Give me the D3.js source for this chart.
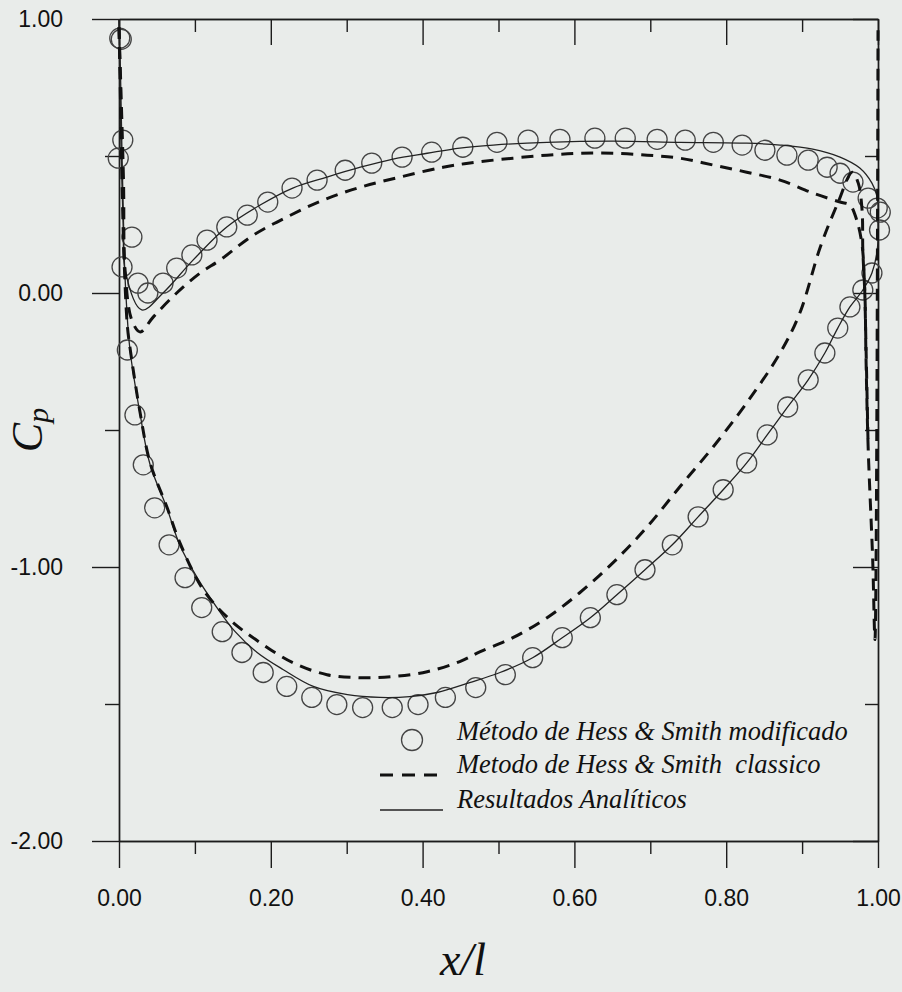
<!DOCTYPE html>
<html><head><meta charset="utf-8">
<script src="https://cdn.jsdelivr.net/npm/d3@7/dist/d3.min.js"></script>
<style>body{margin:0;background:#e9ecea}svg{display:block}</style>
</head><body><svg id="c" width="902" height="992"></svg>
<script>
// ---- tick definitions ----
const xTicksMajor = [0, 0.2, 0.4, 0.6, 0.8, 1.0];
const xTicksMinor = [0.1, 0.3, 0.5, 0.7, 0.9];
const yTicksMajor = [1, 0, -1, -2];
const yTicksMinor = [0.5, -0.5, -1.5];

// ---- Resultados Analíticos (solid) ----
const anaSucX  = [0, 0.001, 0.003, 0.006, 0.009, 0.0145, 0.028, 0.041, 0.063, 0.080, 0.103, 0.129, 0.153, 0.182, 0.216, 0.256, 0.301, 0.344, 0.383, 0.419, 0.462, 0.502, 0.545, 0.584, 0.621, 0.656, 0.693, 0.729, 0.763, 0.796, 0.827, 0.854, 0.881, 0.908, 0.930, 0.947, 0.963, 0.980, 0.992, 0.999, 1.0];
const anaSucCp = [1.0, 0.80, 0.50, 0.20, 0.00, -0.208, -0.445, -0.627, -0.784, -0.919, -1.039, -1.148, -1.236, -1.312, -1.374, -1.436, -1.466, -1.476, -1.473, -1.458, -1.422, -1.385, -1.331, -1.258, -1.185, -1.101, -1.010, -0.919, -0.817, -0.718, -0.620, -0.518, -0.416, -0.317, -0.219, -0.128, -0.051, 0.011, 0.073, 0.157, 0.26];
const anaPreX  = [0, 0.002, 0.004, 0.006, 0.008, 0.030, 0.058, 0.0975, 0.142, 0.186, 0.229, 0.274, 0.318, 0.361, 0.406, 0.449, 0.493, 0.564, 0.651, 0.739, 0.827, 0.871, 0.914, 0.950, 0.976, 0.992, 0.999, 1.0];
const anaPreCp = [1.0, 0.80, 0.50, 0.25, 0.084, -0.062, 0.0, 0.120, 0.241, 0.321, 0.383, 0.423, 0.459, 0.489, 0.510, 0.529, 0.540, 0.550, 0.554, 0.550, 0.547, 0.540, 0.525, 0.496, 0.456, 0.401, 0.350, 0.26];

// ---- Metodo de Hess & Smith classico (dashed) ----
const claSucX  = [0, 0.002, 0.004, 0.007, 0.011, 0.0145, 0.028, 0.041, 0.063, 0.080, 0.111, 0.146, 0.186, 0.229, 0.274, 0.318, 0.361, 0.406, 0.449, 0.476, 0.519, 0.564, 0.607, 0.651, 0.696, 0.739, 0.783, 0.827, 0.871, 0.897, 0.924, 0.947, 0.966, 0.974, 0.979, 0.980, 0.983, 0.984, 0.987, 0.993, 0.996, 1.0];
const claSucCp = [0.97, 0.70, 0.40, 0.10, -0.12, -0.20, -0.44, -0.62, -0.78, -0.91, -1.083, -1.192, -1.276, -1.349, -1.393, -1.404, -1.400, -1.382, -1.345, -1.309, -1.258, -1.185, -1.094, -0.984, -0.853, -0.707, -0.561, -0.401, -0.219, -0.073, 0.168, 0.328, 0.441, 0.401, 0.303, 0.157, -0.026, -0.208, -0.561, -0.973, -1.265, 0.959];
const claPreX  = [0, 0.003, 0.006, 0.008, 0.017, 0.028, 0.045, 0.076, 0.107, 0.133, 0.177, 0.221, 0.269, 0.318, 0.370, 0.427, 0.472, 0.519, 0.564, 0.607, 0.651, 0.696, 0.739, 0.783, 0.827, 0.871, 0.914, 0.950, 0.963, 0.972, 0.979, 0.982, 0.984, 0.987];
const claPreCp = [0.97, 0.70, 0.40, 0.084, -0.10, -0.142, -0.088, 0.0, 0.073, 0.120, 0.211, 0.277, 0.339, 0.386, 0.423, 0.459, 0.478, 0.492, 0.503, 0.510, 0.510, 0.503, 0.492, 0.467, 0.441, 0.412, 0.365, 0.332, 0.321, 0.266, 0.175, 0.047, -0.171, -0.561];

// ---- Método de Hess & Smith modificado (circles) ----
const modPreX  = [0.003, 0.005, 0.017, 0.025, 0.038, 0.058, 0.076, 0.096, 0.116, 0.142, 0.169, 0.196, 0.228, 0.261, 0.298, 0.333, 0.373, 0.412, 0.453, 0.498, 0.539, 0.581, 0.627, 0.667, 0.709, 0.746, 0.783, 0.821, 0.851, 0.880, 0.908, 0.933, 0.950, 0.967, 0.987, 0.999, 1.003];
const modPreCp = [0.926, 0.558, 0.204, 0.036, 0.0, 0.036, 0.091, 0.139, 0.193, 0.241, 0.284, 0.332, 0.383, 0.412, 0.448, 0.474, 0.496, 0.514, 0.532, 0.550, 0.558, 0.561, 0.565, 0.565, 0.561, 0.558, 0.550, 0.540, 0.521, 0.503, 0.485, 0.459, 0.437, 0.405, 0.346, 0.310, 0.295];
const modSucX  = [0.001, -0.001, 0.004, 0.011, 0.021, 0.032, 0.047, 0.066, 0.087, 0.109, 0.136, 0.162, 0.190, 0.221, 0.254, 0.287, 0.321, 0.360, 0.394, 0.430, 0.470, 0.509, 0.545, 0.584, 0.621, 0.656, 0.693, 0.729, 0.763, 0.796, 0.827, 0.854, 0.881, 0.908, 0.930, 0.947, 0.963, 0.980, 0.992, 1.002];
const modSucCp = [0.93, 0.492, 0.095, -0.208, -0.445, -0.627, -0.784, -0.919, -1.039, -1.148, -1.236, -1.312, -1.385, -1.436, -1.476, -1.502, -1.513, -1.513, -1.502, -1.476, -1.440, -1.393, -1.331, -1.258, -1.185, -1.101, -1.010, -0.919, -0.817, -0.718, -0.620, -0.518, -0.416, -0.317, -0.219, -0.128, -0.051, 0.011, 0.073, 0.23];

const legendLabels = ["Método de Hess & Smith modificado", "Metodo de Hess & Smith  classico", "Resultados Analíticos"];

const zip = (xs, ys) => xs.map((v, i) => [v, ys[i]]);

const svg = d3.select("#c");
svg.append("rect").attr("width", 902).attr("height", 992).attr("fill", "#e9ecea");

const L = 119, R = 878, T = 19, B = 841;
const x = d3.scaleLinear().domain([0, 1]).range([L, R]);
const y = d3.scaleLinear().domain([-2, 1]).range([B, T]);

const ink = "#1c1c1c";
const fmt = d => d3.format(".2f")(d).replace("\u2212", "-");

function styleAxis(g) {
  g.selectAll("path.domain").attr("stroke", ink).attr("stroke-width", 1.4);
  g.selectAll(".tick line").attr("stroke", ink).attr("stroke-width", 1.4);
  g.selectAll("text").attr("fill", "#111").style("font-family", "'Liberation Sans', Arial, sans-serif").style("font-size", "23px");
}

// bottom axis
const gb = svg.append("g").attr("transform", `translate(0,${B})`)
  .call(d3.axisBottom(x).tickValues(xTicksMajor).tickSize(27).tickSizeOuter(0).tickPadding(22).tickFormat(fmt));
styleAxis(gb);
const gbm = svg.append("g").attr("transform", `translate(0,${B})`)
  .call(d3.axisBottom(x).tickValues(xTicksMinor).tickSize(13).tickSizeOuter(0).tickFormat(""));
styleAxis(gbm);
// top axis (inward)
const gt = svg.append("g").attr("transform", `translate(0,${T})`)
  .call(d3.axisTop(x).tickValues(xTicksMajor).tickSize(-26).tickSizeOuter(0).tickFormat(""));
styleAxis(gt);
const gtm = svg.append("g").attr("transform", `translate(0,${T})`)
  .call(d3.axisTop(x).tickValues(xTicksMinor).tickSize(-13).tickSizeOuter(0).tickFormat(""));
styleAxis(gtm);
// left axis
const gl = svg.append("g").attr("transform", `translate(${L},0)`)
  .call(d3.axisLeft(y).tickValues(yTicksMajor).tickSize(27).tickSizeOuter(0).tickPadding(29).tickFormat(fmt));
styleAxis(gl);
const glm = svg.append("g").attr("transform", `translate(${L},0)`)
  .call(d3.axisLeft(y).tickValues(yTicksMinor).tickSize(14).tickSizeOuter(0).tickFormat(""));
styleAxis(glm);
// right axis (inward)
const gr = svg.append("g").attr("transform", `translate(${R},0)`)
  .call(d3.axisRight(y).tickValues(yTicksMajor).tickSize(-25).tickSizeOuter(0).tickFormat(""));
styleAxis(gr);
const grm = svg.append("g").attr("transform", `translate(${R},0)`)
  .call(d3.axisRight(y).tickValues(yTicksMinor).tickSize(-13).tickSizeOuter(0).tickFormat(""));
styleAxis(grm);

// lines
const line = d3.line().x(d => x(d[0])).y(d => y(d[1])).curve(d3.curveCatmullRom.alpha(0.5));

// circles
const circG = svg.append("g");
[zip(modPreX, modPreCp), zip(modSucX, modSucCp)].forEach(data => {
  circG.selectAll(null).data(data).enter().append("circle")
    .attr("cx", d => x(d[0])).attr("cy", d => y(d[1])).attr("r", 10)
    .attr("fill", "none").attr("stroke", "#444").attr("stroke-width", 1.3);
});

[zip(anaSucX, anaSucCp), zip(anaPreX, anaPreCp)].forEach(data => {
  svg.append("path").datum(data).attr("d", line)
    .attr("fill", "none").attr("stroke", "#222").attr("stroke-width", 1.3);
});
[zip(claSucX, claSucCp), zip(claPreX, claPreCp)].forEach(data => {
  svg.append("path").datum(data).attr("d", line)
    .attr("fill", "none").attr("stroke", "#111").attr("stroke-width", 3).attr("stroke-dasharray", "12,8");
});

// legend
const lg = svg.append("g");
const serif = "'Liberation Serif', 'Times New Roman', serif";
lg.append("circle").attr("cx", 412).attr("cy", 740).attr("r", 10.5)
  .attr("fill", "none").attr("stroke", "#444").attr("stroke-width", 1.3);
lg.append("line").attr("x1", 380).attr("x2", 441).attr("y1", 775).attr("y2", 775)
  .attr("stroke", "#111").attr("stroke-width", 3).attr("stroke-dasharray", "13,9");
lg.append("line").attr("x1", 380).attr("x2", 443).attr("y1", 810).attr("y2", 810)
  .attr("stroke", "#222").attr("stroke-width", 1.3);
const ly = [740, 773, 808];
legendLabels.forEach((t, i) => {
  lg.append("text").attr("x", 457).attr("y", ly[i]).text(t)
    .attr("xml:space", "preserve").style("white-space", "pre")
    .style("font-family", serif).style("font-style", "italic").style("font-size", "26.5px").attr("fill", "#111");
});

// axis titles
const yt = svg.append("text").attr("transform", "translate(42,430) rotate(-90)")
  .attr("text-anchor", "middle").style("font-family", serif).style("font-style", "italic").attr("fill", "#111");
yt.append("tspan").text("C").style("font-size", "44px");
yt.append("tspan").text("p").style("font-size", "30px").attr("dy", 6);

svg.append("text").attr("x", 463).attr("y", 975).attr("text-anchor", "middle")
  .style("font-family", serif).style("font-style", "italic").style("font-size", "46px").attr("fill", "#111")
  .text("x/l");
</script>
</body></html>
